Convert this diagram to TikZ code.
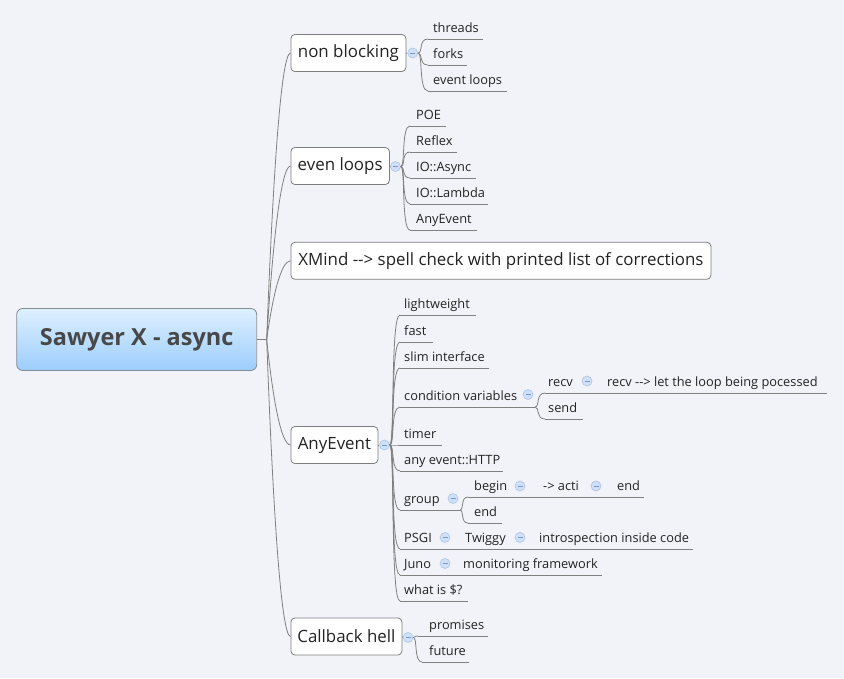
\documentclass[tikz,border=0pt]{standalone}
\usepackage{fontspec}
\setmainfont{Open Sans}
\usetikzlibrary{calc}
\definecolor{bg}{RGB}{242,243,248}
\definecolor{linegray}{RGB}{128,128,128}
\definecolor{boxgray}{RGB}{125,125,125}
\definecolor{txt}{RGB}{35,35,35}
\definecolor{roottxt}{RGB}{72,72,72}
\definecolor{rtop}{RGB}{222,240,255}
\definecolor{rbot}{RGB}{156,205,252}
\definecolor{rdraw}{RGB}{130,140,150}
\definecolor{togfill}{RGB}{208,224,248}
\definecolor{togdraw}{RGB}{170,196,234}
\definecolor{togminus}{RGB}{120,150,200}
\newcommand\mmsub[6]{%
  \node[subt] (#1) at (#2,#3-7) {#6};
  \coordinate (#1-s) at (#4,#3);
  \coordinate (#1-e) at (#5,#3);
  \draw[ln] (#1-s) -- (#1-e);
}
\begin{document}
\begin{tikzpicture}[x=1pt,y=-1pt,
  ln/.style={draw=linegray, line width=0.8pt},
  root/.style={draw=rdraw, top color=rtop, bottom color=rbot, rounded corners=6pt,
    minimum width=240, minimum height=62, inner sep=0pt, line width=0.8pt,
    font=\fontsize{23.5}{28}\selectfont\bfseries, text=roottxt},
  topic/.style={draw=boxgray, fill=white, rounded corners=4pt, minimum height=37,
    anchor=west, inner sep=0pt, line width=0.8pt,
    font=\fontsize{16.9}{20}\selectfont, text=txt},
  subt/.style={anchor=base west, inner sep=0pt, font=\fontsize{12.8}{15}\selectfont, text=txt},
  tog/.style={circle, minimum size=10, inner sep=0pt, fill=togfill, draw=togdraw, line width=0.6pt,
    path picture={\draw[togminus, line width=0.6pt]
      ([xshift=-2.5pt]path picture bounding box.center) -- ([xshift=2.5pt]path picture bounding box.center);}},
  trunk/.style={ln, to path={let \p1=(\tikztostart), \p2=(\tikztotarget) in
    .. controls ({\x1+0.25*(\x2-\x1)},{\y1+0.55*(\y2-\y1)}) and ({\x1+0.6*(\x2-\x1)},\y2) .. (\tikztotarget)}},
  br/.style={ln, to path={let \p1=(\tikztostart), \p2=(\tikztotarget) in
    .. controls ({\x1+0.5*(\x2-\x1)},\y1) and ({\x1+0.05*(\x2-\x1)},\y2) .. (\tikztotarget)}}
]
\fill[bg] (0,0) rectangle (844,678);
\useasboundingbox (0,0) rectangle (844,678);

% central topic
\node[root] (root) at (136.7,339.5) {Sawyer X - async};
\coordinate (hub) at (266.7,339.5);
\draw[ln] (root.east) -- (hub);

% main topics
\node[topic, minimum width=115] (nb) at (290.5,53) {non blocking};
\node[topic, minimum width=98.5] (el) at (290.5,166) {even loops};
\node[topic, minimum width=420] (xm) at (290.5,260.8) {XMind -{}-{}> spell check with printed list of corrections};
\node[topic, minimum width=87] (ae) at (290.5,445) {AnyEvent};
\node[topic, minimum width=111] (cb) at (290.5,636.5) {Callback hell};
\foreach \t in {nb,el,xm,ae,cb} \draw[trunk] (hub) to (\t.west);

% toggles of main topics
\node[tog] (nb-t) at (412.7,53) {};
\node[tog] (el-t) at (395.5,166.5) {};
\node[tog] (ae-t) at (384.5,445) {};
\node[tog] (cb-t) at (408,637.5) {};
\foreach \t in {nb,el,ae,cb} \draw[ln] (\t.east) -- (\t-t.west);

% non blocking
\mmsub{thr}{433}{39}{428}{483}{threads}
\mmsub{frk}{433}{65}{428}{467}{forks}
\mmsub{evl}{433}{91}{428}{507}{event loops}
\foreach \c in {thr,frk,evl} \draw[br] (nb-t.east) to (\c-s);

% even loops
\mmsub{poe}{416}{126}{410}{446}{POE}
\mmsub{rfx}{416}{152}{410}{457}{Reflex}
\mmsub{ioa}{416}{178}{410}{476}{IO::Async}
\mmsub{iol}{416}{204}{410}{488}{IO::Lambda}
\mmsub{ane}{416}{230}{410}{477}{AnyEvent}
\foreach \c in {poe,rfx,ioa,iol,ane} \draw[br] (el-t.east) to (\c-s);

% AnyEvent
\mmsub{lw}{404}{315}{400}{476}{lightweight}
\mmsub{fst}{404}{342}{400}{433}{fast}
\mmsub{slim}{404}{368}{400}{489}{slim interface}
\mmsub{cv}{404}{407}{400}{535}{condition variables}
\mmsub{tmr}{404}{445}{400}{442}{timer}
\mmsub{http}{404}{471}{400}{503}{any event::HTTP}
\mmsub{grp}{404}{510}{400}{460}{group}
\mmsub{psgi}{404}{549}{400}{693}{PSGI}
\mmsub{juno}{404}{575}{400}{602}{Juno}
\mmsub{what}{404}{601}{400}{468}{what is \$?}
\foreach \c in {lw,fst,slim,cv,tmr,http,grp,psgi,juno,what} \draw[br] (ae-t.east) to (\c-s);

% condition variables
\node[tog] (cv-t) at (528,394.5) {};
\mmsub{recv}{548}{393}{545}{827}{recv}
\mmsub{send}{548}{419}{545}{583}{send}
\foreach \c in {recv,send} \draw[br] (cv-e) to (\c-s);
\node[tog] (recv-t) at (587,381) {};
\node[subt] (recvc) at (607,393-7) {recv -{}-{}> let the loop being pocessed};

% group
\node[tog] (grp-t) at (453,498.5) {};
\mmsub{beg}{474}{497}{468}{644}{begin}
\mmsub{gend}{474}{523}{468}{502}{end}
\foreach \c in {beg,gend} \draw[br] (grp-e) to (\c-s);
\node[tog] (beg-t) at (520,486) {};
\node[subt] (acti) at (543,497-7) {-> acti};
\node[tog] (acti-t) at (596,486) {};
\node[subt] (aend) at (617,497-7) {end};

% PSGI chain
\node[tog] (psgi-t) at (445,537.5) {};
\node[subt] (twg) at (465,549-7) {Twiggy};
\node[tog] (twg-t) at (520,537.5) {};
\node[subt] (intro) at (539,549-7) {introspection inside code};

% Juno chain
\node[tog] (juno-t) at (445,563.5) {};
\node[subt] (mon) at (463,575-7) {monitoring framework};

% Callback hell
\mmsub{prom}{429}{636}{418}{488}{promises}
\mmsub{fut}{429}{662}{422}{469}{future}
\foreach \c in {prom,fut} \draw[br] (cb-t.east) to (\c-s);
\end{tikzpicture}
\end{document}
